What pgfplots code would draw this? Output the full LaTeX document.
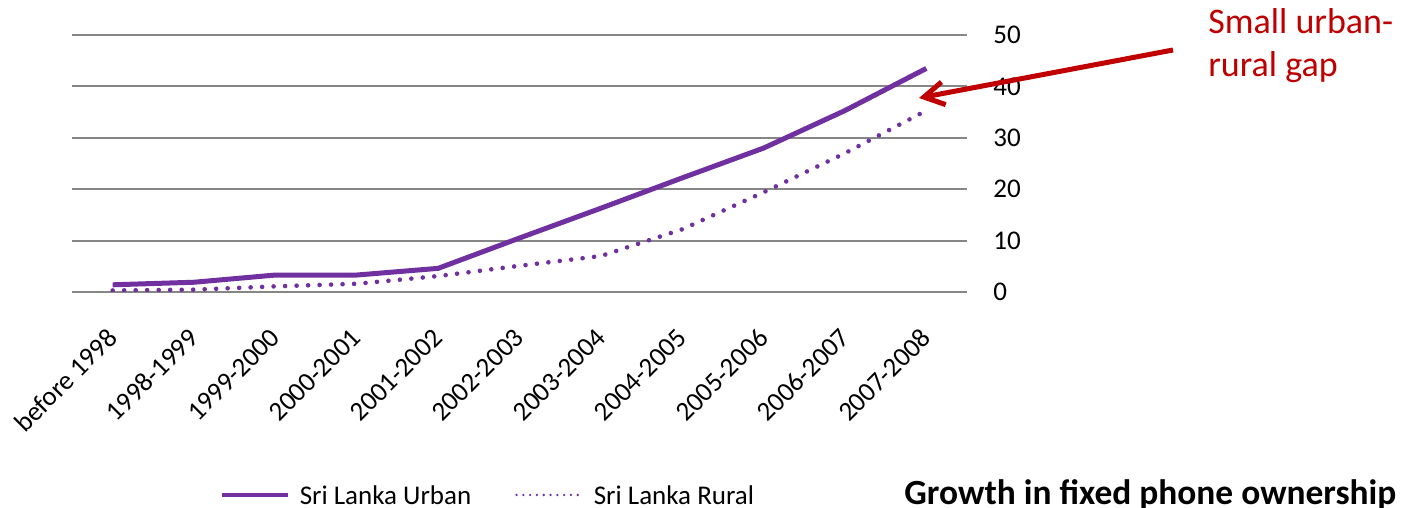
\documentclass[border=0pt]{standalone}
\usepackage{pgfplots}
\pgfplotsset{compat=1.18}
\usepackage{fontspec}
\setmainfont{Carlito}
\usetikzlibrary{arrows.meta}
\definecolor{urbpurple}{HTML}{7030A0}
\definecolor{gridgray}{HTML}{868686}
\definecolor{annred}{HTML}{C00000}
\begin{document}
\begin{tikzpicture}[x=1pt,y=1pt]
\useasboundingbox (0,0) rectangle (701,254);
\begin{axis}[
  at={(36pt,108pt)}, anchor=south west,
  scale only axis, width=447.5pt, height=128.5pt,
  xmin=-0.5, xmax=10.5, ymin=0, ymax=50,
  xtick={0,...,10},
  xticklabels={before 1998,1998-1999,1999-2000,2000-2001,2001-2002,2002-2003,2003-2004,2004-2005,2005-2006,2006-2007,2007-2008},
  ytick={0,10,...,50},
  ymajorgrids, grid style={gridgray, line width=1pt},
  axis line style={draw=none},
  major tick length=0pt,
  yticklabel pos=right,
  ticklabel style={font=\fontsize{13.5}{16}\selectfont, inner sep=0pt},
  /pgf/number format/assume math mode=true,
  yticklabel style={anchor=west, xshift=13pt},
  xticklabel style={yshift=-20.5pt, rotate=45, anchor=east},
  legend columns=2,
  legend style={at={(0.1642,-0.798)}, anchor=west, draw=none, fill=none, inner sep=0pt,
    font=\fontsize{13.5}{16}\selectfont, column sep=5pt,
    /tikz/every even column/.append style={column sep=22pt}, nodes={inner sep=0pt}},
]
\addplot[urbpurple, line width=2.5pt, line join=round,
  legend image code/.code={\draw[urbpurple, line width=2.2pt] (0pt,1.05pt) -- (33pt,1.05pt);}]
  coordinates {(0,1.4) (1,1.9) (2,3.3) (3,3.3) (4,4.6) (5,10.5) (6,16.3) (7,22.2) (8,28.0) (9,35.3) (10,43.5)};
\addlegendentry{Sri Lanka Urban}
\addplot[urbpurple, line width=2.3pt, line cap=round, dash pattern=on 0pt off 5.75pt,
  legend image code/.code={\draw[urbpurple, line cap=round, line width=1.3pt, dash pattern=on 0pt off 3.4pt] (0pt,1.05pt) -- (33pt,1.05pt);}]
  coordinates {(0,0.3) (1,0.45) (2,1.1) (3,1.6) (4,3.1) (5,5.1) (6,7.0) (7,12.2) (8,19.4) (9,27.0) (10,35.3)};
\addlegendentry{Sri Lanka Rural}
\end{axis}
\draw[annred, line width=2.5pt, -{Straight Barb[length=10pt, width=11.5pt]}] (586.5,229) -- (459.5,205);
\node[anchor=base west, inner sep=0pt, text=annred, font=\fontsize{18}{21.5}\selectfont] at (604,237) {Small urban-};
\node[anchor=base west, inner sep=0pt, text=annred, font=\fontsize{18}{21.5}\selectfont] at (604,215.5) {rural gap};
\node[anchor=base west, inner sep=0pt, font=\bfseries\fontsize{17.7}{20}\selectfont] at (452,1.5) {Growth in fixed phone ownership};
\end{tikzpicture}
\end{document}
